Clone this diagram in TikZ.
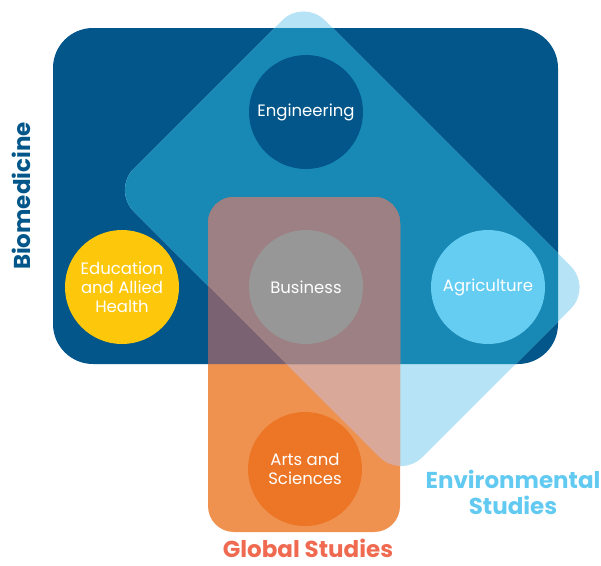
\documentclass[tikz,border=0pt]{standalone}
\usepackage{fontspec}
\setmainfont{Poppins}
\usetikzlibrary{positioning}

\definecolor{biodark}{RGB}{2,86,138}
\definecolor{envlight}{RGB}{182,228,246}
\definecolor{envdark}{RGB}{24,137,181}
\definecolor{globorange}{RGB}{239,146,79}
\definecolor{globbio}{RGB}{123,98,114}
\definecolor{globbioenv}{RGB}{157,128,131}
\definecolor{globenv}{RGB}{217,168,153}
\definecolor{agblue}{RGB}{102,205,242}
\definecolor{edyellow}{RGB}{253,199,12}
\definecolor{artsorange}{RGB}{236,118,38}
\definecolor{busgrey}{RGB}{151,151,151}
\definecolor{envtext}{RGB}{98,202,241}
\definecolor{globtext}{RGB}{239,106,80}

% outlines of the three areas
\newcommand{\bioarea}{[rounded corners=40pt] (53,28) rectangle (558,364)}
\newcommand{\envarea}{[rounded corners=30pt] (303.5,-1) -- (592,287.5) -- (401,478.5) -- (112.5,190) -- cycle}
\newcommand{\globarea}{[rounded corners=26pt] (208,197) rectangle (400,532)}

\tikzset{
  unit/.style={circle, minimum size=114pt, inner sep=0pt, text=white,
    align=center, font=\fontsize{16.5}{18.8}\selectfont},
  area label/.style={font=\fontsize{23}{26}\selectfont\bfseries, align=center, inner sep=0pt}
}

\begin{document}
\begin{tikzpicture}[x=1pt,y=-1pt]
\useasboundingbox (0,0) rectangle (601,565);
% areas
\fill[biodark] \bioarea;
\fill[envlight] \envarea;
\begin{scope}
\clip \bioarea;
\fill[envdark] \envarea;
\end{scope}
\fill[globorange] \globarea;
\begin{scope}
\clip \globarea;
\fill[globenv] \envarea;
\begin{scope}
\clip \bioarea;
\fill[globbio] \bioarea;
\fill[globbioenv] \envarea;
\end{scope}
\end{scope}
% units
\node[unit, fill=biodark] (engineering) at (306,112) {\raisebox{-3pt}{Engineering}};
\node[unit, fill=busgrey] (business) at (306,287) {\raisebox{-2pt}{Business}};
\node[unit, fill=edyellow] (education) at (122,287) {Education\\and Allied\\Health};
\node[unit, fill=agblue] (agriculture) at (488,287) {\raisebox{-3pt}{Agriculture}};
\node[unit, fill=artsorange] (arts) at (305,469) {Arts and\\Sciences};
% area names
\node[area label, text=biodark, rotate=90] (biomedicine) at (21,196) {Biomedicine};
\node[area label, text=envtext] (environmental) at (513,492) {Environmental\\Studies};
\node[area label, text=globtext] (global) at (308,548) {Global Studies};
\end{tikzpicture}
\end{document}
